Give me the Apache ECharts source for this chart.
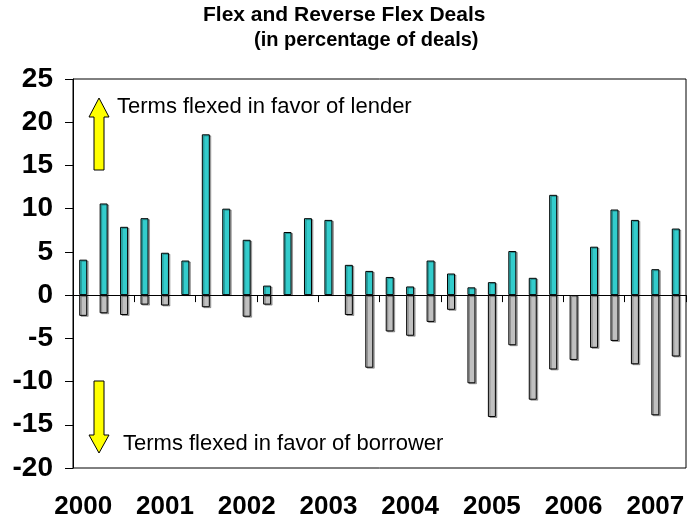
<!DOCTYPE html>
<html>
<head>
<meta charset="utf-8">
<script src="https://cdn.jsdelivr.net/npm/echarts@6/dist/echarts.min.js"></script>
<style>
  html, body { margin: 0; padding: 0; background: #fff; }
  #chart { width: 689px; height: 520px; }
</style>
</head>
<body>
<div id="chart"></div>
<script>
// quarterly categories, 2000 Q1 .. 2007 Q2
const quarters = [
  "2000Q1", "2000Q2", "2000Q3", "2000Q4",
  "2001Q1", "2001Q2", "2001Q3", "2001Q4",
  "2002Q1", "2002Q2", "2002Q3", "2002Q4",
  "2003Q1", "2003Q2", "2003Q3", "2003Q4",
  "2004Q1", "2004Q2", "2004Q3", "2004Q4",
  "2005Q1", "2005Q2", "2005Q3", "2005Q4",
  "2006Q1", "2006Q2", "2006Q3", "2006Q4",
  "2007Q1", "2007Q2"
];
// flexed in favor of lender (up)
const lenderFlex = [
  4.1, 10.6, 7.9, 8.9, 4.9, 4.0, 18.6, 10.0, 6.4, 1.1,
  7.3, 8.9, 8.7, 3.5, 2.8, 2.1, 1.0, 4.0, 2.5, 0.9,
  1.5, 5.1, 2.0, 11.6, 0, 5.6, 9.9, 8.7, 3.0, 7.7
];
// flexed in favor of borrower (down)
const borrowerFlex = [
  -2.4, -2.1, -2.3, -1.1, -1.2, 0, -1.4, 0, -2.5, -1.1,
  0, 0, 0, -2.3, -8.4, -4.2, -4.7, -3.1, -1.7, -10.2,
  -14.1, -5.8, -12.1, -8.6, -7.5, -6.1, -5.3, -8.0, -13.9, -7.1
];
const yTicks = { min: -20, max: 25, step: 5 };

const FONT = "'Liberation Sans', Arial, sans-serif";
const chart = echarts.init(document.getElementById("chart"), null, { renderer: "canvas" });

// empty quarters draw nothing
const noZero = arr => arr.map(v => (v === 0 ? "-" : v));

const barStyle = color => ({
  color: color,
  borderColor: "#000",
  borderWidth: 1,
  shadowColor: "rgba(0,0,0,0.3)",
  shadowOffsetX: 1.5,
  shadowOffsetY: 1,
  shadowBlur: 0
});

const option = {
  backgroundColor: "#fff",
  animation: false,
  grid: {
    left: 73, right: 3, top: 79, bottom: 52,
    show: true, borderColor: "#000", borderWidth: 1
  },
  xAxis: [
    {
      type: "category",
      data: quarters,
      axisLine: { onZero: true, lineStyle: { color: "#000", width: 1 } },
      axisTick: { show: true, length: 7, lineStyle: { color: "#000" } },
      axisLabel: { show: false },
      splitLine: { show: false }
    },
    {
      type: "category",
      data: quarters,
      position: "bottom",
      axisLine: { show: false, onZero: false },
      axisTick: { show: false },
      axisLabel: {
        interval: 3,
        margin: 26,
        formatter: v => v.slice(0, 4),
        fontFamily: FONT, fontWeight: "bold", fontSize: 26, color: "#000"
      }
    }
  ],
  yAxis: {
    type: "value",
    min: yTicks.min, max: yTicks.max, interval: yTicks.step,
    axisLine: { show: true, lineStyle: { color: "#000" } },
    axisTick: { show: true, length: 8, lineStyle: { color: "#000" } },
    splitLine: { show: false },
    axisLabel: {
      margin: 20,
      fontFamily: FONT, fontWeight: "bold", fontSize: 28, color: "#000"
    }
  },
  series: [
    {
      name: "Lender",
      type: "bar",
      data: noZero(lenderFlex),
      barWidth: 8,
      barGap: "-100%",
      itemStyle: barStyle("#33CCCC")
    },
    {
      name: "Borrower",
      type: "bar",
      data: noZero(borrowerFlex),
      barWidth: 8,
      itemStyle: barStyle("#C0C0C0")
    }
  ],
  graphic: [
    {
      type: "text", left: 203, top: 5,
      style: { text: "Flex and Reverse Flex Deals", font: "bold 21px " + FONT, fill: "#000" }
    },
    {
      type: "text", left: 254, top: 30,
      style: { text: "(in percentage of deals)", font: "bold 20px " + FONT, fill: "#000" }
    },
    {
      type: "polygon",
      shape: { points: [[99, 98], [109, 117], [104, 117], [104, 170], [94, 170], [94, 117], [89, 117]] },
      style: { fill: "#FFFF00", stroke: "#000", lineWidth: 1 }
    },
    {
      type: "polygon",
      shape: { points: [[94, 381], [104, 381], [104, 435], [109, 435], [99, 453], [89, 435], [94, 435]] },
      style: { fill: "#FFFF00", stroke: "#000", lineWidth: 1 }
    },
    {
      type: "text", left: 117, top: 96,
      style: { text: "Terms flexed in favor of lender", font: "22px " + FONT, fill: "#000" }
    },
    {
      type: "text", left: 123, top: 433,
      style: { text: "Terms flexed in favor of borrower", font: "22px " + FONT, fill: "#000" }
    }
  ]
};

chart.setOption(option);
</script>
</body>
</html>
